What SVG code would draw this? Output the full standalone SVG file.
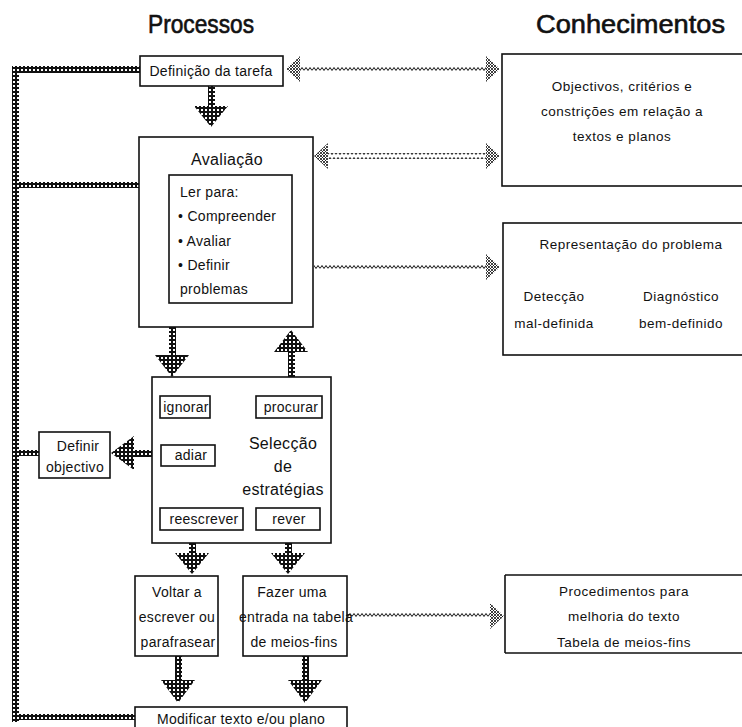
<svg xmlns="http://www.w3.org/2000/svg" width="742" height="727" viewBox="0 0 742 727">
<style>
text{font-family:"Liberation Sans",Arial,sans-serif;fill:#111}
.t{font-size:14px;letter-spacing:0.3px}
.s{font-size:13.5px;letter-spacing:0.5px}
.m{font-size:16px;letter-spacing:0.3px}
.h{font-size:25px;stroke:#111;stroke-width:0.6}
.box{fill:#fff;stroke:#111;stroke-width:1.6}
.bar{fill:url(#bead)}
.hd{fill:url(#bead)}
.zz{fill:url(#zz)}
.kh{fill:url(#xh)}
</style>
<defs>
<pattern id="bead" width="4" height="4" patternUnits="userSpaceOnUse"><rect width="4" height="4" fill="#111"/><rect x="1" y="1" width="2" height="2" fill="#fff"/></pattern>
<pattern id="zz" width="8" height="6" patternUnits="userSpaceOnUse"><path d="M0,4.5 L2,1.5 L4,4.5 L6,1.5 L8,4.5" fill="none" stroke="#111" stroke-width="1"/></pattern>
<pattern id="xh" width="3" height="3" patternUnits="userSpaceOnUse"><rect width="3" height="3" fill="#fff"/><path d="M0,0 L3,3 M3,0 L0,3" stroke="#111" stroke-width="0.8"/></pattern>
</defs>

<text class="h" x="148" y="33" textLength="106" lengthAdjust="spacingAndGlyphs">Processos</text>
<text class="h" x="536" y="33" textLength="189" lengthAdjust="spacingAndGlyphs">Conhecimentos</text>

<g id="connectors">
  <!-- left feedback bar -->
  <rect class="bar" x="12" y="66" width="7" height="656"/>
  <rect class="bar" x="12" y="66" width="128" height="7"/>
  <rect class="bar" x="12" y="182" width="127" height="6"/>
  <rect class="bar" x="12" y="450" width="27" height="6"/>
  <rect class="bar" x="12" y="714" width="123" height="6"/>
  <!-- Definição -> Avaliação -->
  <rect class="bar" x="208" y="86" width="7" height="22"/>
  <polygon class="hd" points="194,106 228,106 211,127"/>
  <!-- Avaliação -> Selecção -->
  <rect class="bar" x="169" y="327" width="7" height="30"/>
  <polygon class="hd" points="155,355 189,355 172,377"/>
  <!-- procurar -> Avaliação -->
  <rect class="bar" x="288" y="350" width="7" height="46"/>
  <polygon class="hd" points="274,352 308,352 291,330"/>
  <!-- adiar -> Definir objectivo -->
  <rect class="bar" x="132" y="450" width="29" height="7"/>
  <polygon class="hd" points="134,436 134,470 111,453"/>
  <!-- reescrever -> Voltar -->
  <rect class="bar" x="189" y="530" width="7" height="25"/>
  <polygon class="hd" points="175,553 209,553 192,574"/>
  <!-- rever -> Fazer -->
  <rect class="bar" x="285" y="530" width="7" height="25"/>
  <polygon class="hd" points="271,553 305,553 288,574"/>
  <!-- Voltar -> Modificar -->
  <rect class="bar" x="175" y="656" width="7" height="26"/>
  <polygon class="hd" points="161,680 195,680 178,703"/>
  <!-- Fazer -> Modificar -->
  <rect class="bar" x="302" y="656" width="7" height="26"/>
  <polygon class="hd" points="288,680 322,680 305,703"/>

  <!-- knowledge connectors -->
  <rect class="zz" x="298" y="66" width="188" height="6"/>
  <polygon class="kh" points="286,69 300,56 300,82"/>
  <polygon class="kh" points="500,69 486,56 486,82"/>
  <rect class="zz" x="326" y="153" width="160" height="6"/>
  <polygon class="kh" points="314,156 328,143 328,169"/>
  <polygon class="kh" points="500,156 486,143 486,169"/>
  <rect class="zz" x="314" y="264" width="172" height="6"/>
  <polygon class="kh" points="500,267 486,254 486,280"/>
  <rect class="zz" x="347" y="613" width="143" height="6"/>
  <polygon class="kh" points="504,616 490,603 490,629"/>
</g>

<g id="definicao">
  <rect class="box" x="140" y="56" width="143" height="30"/>
  <text class="t" x="211" y="76" text-anchor="middle">Definição da tarefa</text>
</g>

<g id="avaliacao">
  <rect class="box" x="139" y="137" width="174" height="190"/>
  <text class="m" x="227" y="165" text-anchor="middle">Avaliação</text>
  <rect class="box" x="169" y="175" width="123" height="128"/>
  <text class="t" x="180" y="197">Ler para:</text>
  <text class="t" x="178" y="221">• Compreender</text>
  <text class="t" x="178" y="246">• Avaliar</text>
  <text class="t" x="178" y="270">• Definir</text>
  <text class="t" x="180" y="294">problemas</text>
</g>

<g id="objectivos">
  <rect class="box" x="502" y="54" width="250" height="132"/>
  <text class="s" x="622" y="91" text-anchor="middle">Objectivos, critérios e</text>
  <text class="s" x="622" y="116" text-anchor="middle">constrições em relação a</text>
  <text class="s" x="622" y="141" text-anchor="middle">textos e planos</text>
</g>

<g id="representacao">
  <rect class="box" x="503" y="223" width="249" height="132"/>
  <text class="s" x="631" y="249" text-anchor="middle">Representação do problema</text>
  <text class="s" x="554" y="301" text-anchor="middle">Detecção</text>
  <text class="s" x="554" y="328" text-anchor="middle">mal-definida</text>
  <text class="s" x="681" y="301" text-anchor="middle">Diagnóstico</text>
  <text class="s" x="681" y="328" text-anchor="middle">bem-definido</text>
</g>

<g id="seleccao">
  <rect class="box" x="152" y="377" width="179" height="166"/>
  <text class="m" x="283" y="449" text-anchor="middle">Selecção</text>
  <text class="m" x="283" y="472" text-anchor="middle">de</text>
  <text class="m" x="283" y="495" text-anchor="middle">estratégias</text>
</g>
<g id="ignorar">
  <rect class="box" x="160" y="396" width="50" height="22"/>
  <text class="t" x="186" y="412" text-anchor="middle">ignorar</text>
</g>
<g id="procurar">
  <rect class="box" x="256" y="396" width="66" height="22"/>
  <text class="t" x="291" y="412" text-anchor="middle">procurar</text>
</g>
<g id="adiar">
  <rect class="box" x="161" y="445" width="54" height="21"/>
  <text class="t" x="191" y="460" text-anchor="middle">adiar</text>
</g>
<g id="reescrever">
  <rect class="box" x="160" y="508" width="83" height="22"/>
  <text class="t" x="204" y="524" text-anchor="middle">reescrever</text>
</g>
<g id="rever">
  <rect class="box" x="256" y="508" width="64" height="22"/>
  <text class="t" x="289" y="524" text-anchor="middle">rever</text>
</g>

<g id="definir-objectivo">
  <rect class="box" x="39" y="432" width="71" height="46"/>
  <text class="t" x="78" y="451" text-anchor="middle">Definir</text>
  <text class="t" x="75" y="472" text-anchor="middle">objectivo</text>
</g>

<g id="voltar">
  <rect class="box" x="135" y="576" width="83" height="80"/>
  <text class="t" x="177" y="597" text-anchor="middle">Voltar a</text>
  <text class="t" x="177" y="622" text-anchor="middle">escrever ou</text>
  <text class="t" x="178" y="647" text-anchor="middle">parafrasear</text>
</g>

<g id="fazer">
  <rect class="box" x="243" y="576" width="104" height="80"/>
  <text class="t" x="292" y="597" text-anchor="middle">Fazer uma</text>
  <text class="t" x="296" y="622" text-anchor="middle">entrada na tabela</text>
  <text class="t" x="294" y="647" text-anchor="middle">de meios-fins</text>
</g>

<g id="procedimentos">
  <path d="M505,575 L742,575 M505,575 L505,653 M505,653 L742,653" fill="none" stroke="#111" stroke-width="1.6"/>
  <text class="s" x="624" y="596" text-anchor="middle">Procedimentos para</text>
  <text class="s" x="624" y="621" text-anchor="middle">melhoria do texto</text>
  <text class="s" x="624" y="647" text-anchor="middle">Tabela de meios-fins</text>
</g>

<g id="modificar">
  <rect class="box" x="135" y="707" width="212" height="30"/>
  <text class="t" x="241" y="724" text-anchor="middle">Modificar texto e/ou plano</text>
</g>
</svg>
